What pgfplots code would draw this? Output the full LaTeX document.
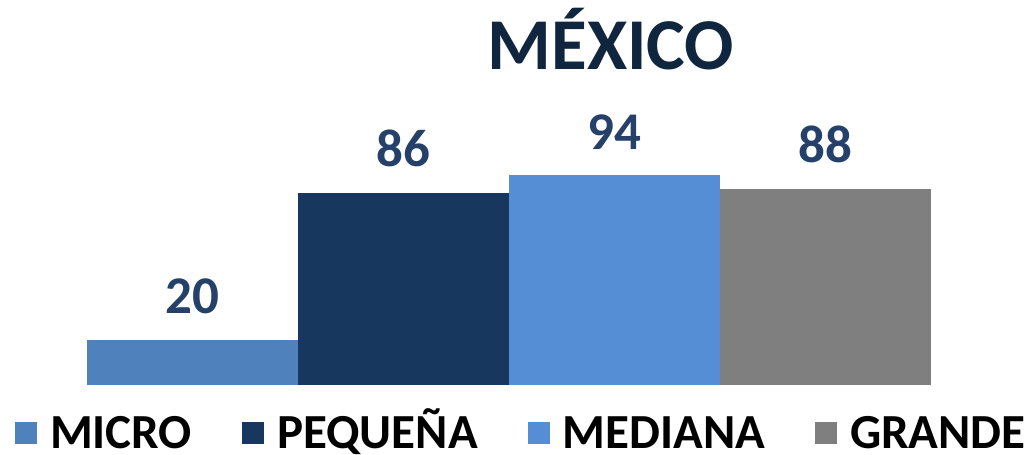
\documentclass[border=0pt]{standalone}
\usepackage{pgfplots}
\pgfplotsset{compat=1.18}
\usepackage{fontspec}
\setmainfont{Carlito}

\definecolor{cMicro}{HTML}{4F81BD}
\definecolor{cPeq}{HTML}{17375E}
\definecolor{cMed}{HTML}{558ED5}
\definecolor{cGrande}{HTML}{7F7F7F}
\definecolor{cLabel}{HTML}{254169}
\definecolor{cTitle}{HTML}{10263F}

\begin{document}
\begin{tikzpicture}
\path[use as bounding box] (0,0) rectangle (1026pt,455pt);
\begin{axis}[
    at={(87pt,70pt)}, anchor=south west,
    scale only axis, width=844pt, height=223pt,
    xmin=-0.5, xmax=3.5, ymin=0, ymax=100,
    hide axis, clip=false,
    ybar, bar width=1, bar shift=0pt,
    /pgf/number format/assume math mode=true,
    nodes near coords,
    every node near coord/.append style={
      font=\fontsize{53}{60}\selectfont\bfseries,
      text=cLabel, anchor=south, inner sep=0pt, yshift=26pt},
    legend columns=4,
    legend image code/.code={\fill[#1] (0pt,-11pt) rectangle (22pt,11pt);},
    legend style={
      at={(-0.0853,-0.215)}, anchor=west,
      draw=none, fill=none, inner sep=0pt, outer sep=0pt,
      font=\fontsize{49}{52}\selectfont\bfseries,
      nodes={inner sep=0pt, text height=31pt, text depth=0pt},
      /tikz/every odd column/.append style={column sep=13pt},
      /tikz/every even column/.append style={column sep=50pt},
    },
]
\addplot[fill=cMicro, draw=none] coordinates {(0,20)};
\addlegendentry{MICRO}
\addplot[fill=cPeq, draw=none] coordinates {(1,86)};
\addlegendentry{PEQUEÑA}
\addplot[fill=cMed, draw=none] coordinates {(2,94)};
\addlegendentry{MEDIANA}
\addplot[fill=cGrande, draw=none] coordinates {(3,88)};
\addlegendentry{GRANDE}
\end{axis}
\node[anchor=base, font=\fontsize{73}{80}\selectfont\bfseries, text=cTitle]
  at (611pt,385pt) {MÉXICO};
\end{tikzpicture}
\end{document}
